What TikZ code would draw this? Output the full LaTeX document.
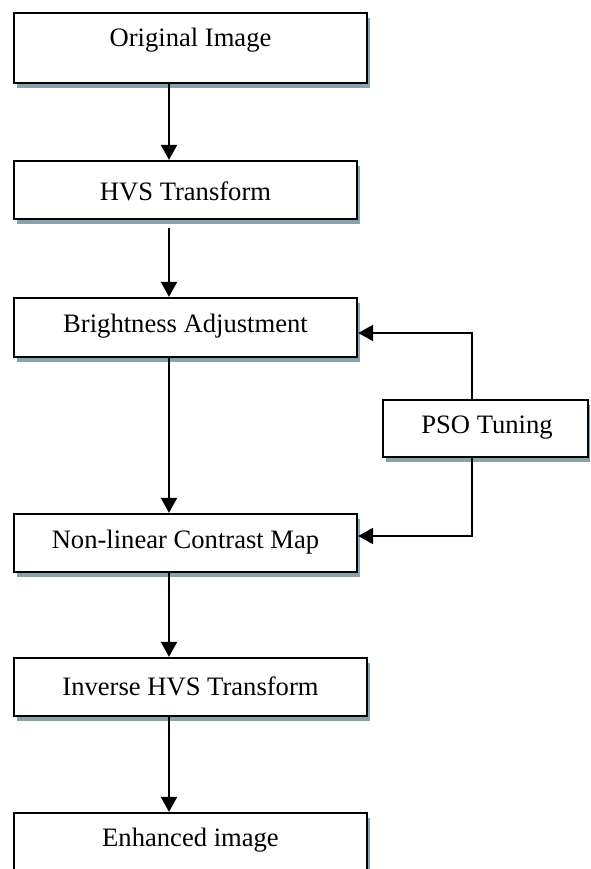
\documentclass[tikz,border=0pt]{standalone}
\usepackage{fontspec}
\setmainfont{Liberation Serif}
\usetikzlibrary{arrows.meta,shadows}
\definecolor{shadowc}{RGB}{137,163,173}
\tikzset{
  box/.style={draw=black, line width=2.3pt, fill=white, rectangle, inner sep=0pt,
    drop shadow={shadow xshift=3pt, shadow yshift=-5pt, fill=shadowc, opacity=1}},
  lbl/.style={inner sep=0pt, font=\fontsize{26.6}{30}\selectfont},
  arr/.style={line width=2.2pt, -{Triangle[length=15pt,width=16pt]}}
}
\begin{document}
\begin{tikzpicture}[x=1pt,y=-1pt]
\useasboundingbox (0,0) rectangle (590,869);
\clip (0,0) rectangle (590,869);
% boxes
\node[box, minimum width=353pt, minimum height=70pt] (orig) at (190.5,48) {};
\node[box, minimum width=343pt, minimum height=58pt] (hvs) at (185.5,190) {};
\node[box, minimum width=343pt, minimum height=59pt] (bright) at (185.5,327.5) {};
\node[box, minimum width=205pt, minimum height=57pt] (pso) at (485.5,428.5) {};
\node[box, minimum width=343pt, minimum height=58pt] (nonlin) at (185.5,543) {};
\node[box, minimum width=353pt, minimum height=58pt] (inv) at (190.5,687) {};
\node[box, minimum width=353pt, minimum height=87pt] (enh) at (190.5,856.5) {};
% labels
\node[lbl] (origt) at (190.5,40) {Original Image};
\node[lbl] (hvst) at (185.5,191) {HVS Transform};
\node[lbl] (brightt) at (185.5,326) {Brightness Adjustment};
\node[lbl] (psot) at (487,428) {PSO Tuning};
\node[lbl] (nonlint) at (185.5,542) {Non-linear Contrast Map};
\node[lbl] (invt) at (190.5,686) {Inverse HVS Transform};
\node[lbl] (enht) at (190.5,840) {Enhanced image};
% helper coordinates
\coordinate (ax) at (169,0);
\coordinate (a2s) at (169,228);
\coordinate (fx) at (472,0);
\coordinate (fb1) at (0,333);
\coordinate (fb2) at (0,536);
% connectors
\draw[arr] (orig.south -| ax) -- (hvs.north -| ax);
\draw[arr] (a2s) -- (bright.north -| ax);
\draw[arr] (bright.south -| ax) -- (nonlin.north -| ax);
\draw[arr] (nonlin.south -| ax) -- (inv.north -| ax);
\draw[arr] (inv.south -| ax) -- (enh.north -| ax);
\draw[arr] (pso.north -| fx) |- (bright.east |- fb1);
\draw[arr] (pso.south -| fx) |- (nonlin.east |- fb2);
\end{tikzpicture}
\end{document}
